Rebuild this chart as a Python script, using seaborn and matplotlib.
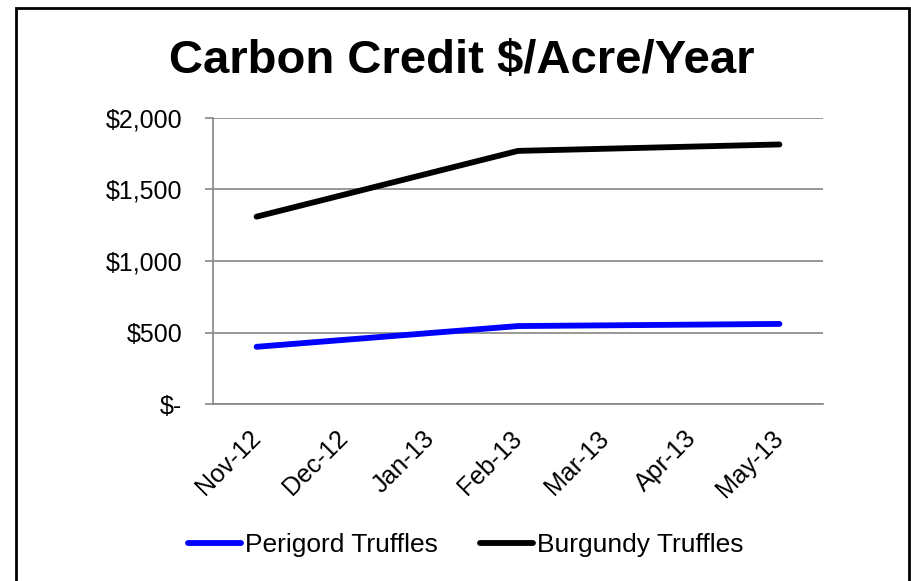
import matplotlib
matplotlib.use('Agg')
import matplotlib.pyplot as plt
from matplotlib.patches import Rectangle
import pandas as pd
import seaborn as sns

# Данные графика
months = ["Nov-12", "Dec-12", "Jan-13", "Feb-13", "Mar-13", "Apr-13", "May-13"]
obs_months = ["Nov-12", "Feb-13", "May-13"]
perigord = [400, 545, 560]
burgundy = [1310, 1770, 1815]
series_names = ["Perigord Truffles", "Burgundy Truffles"]
y_ticks = [0, 500, 1000, 1500, 2000]
y_labels = ["$-", "$500", "$1,000", "$1,500", "$2,000"]

df = pd.DataFrame({
    "month": obs_months * 2,
    "value": perigord + burgundy,
    "series": [series_names[0]] * 3 + [series_names[1]] * 3,
})
df["pos"] = df["month"].map(months.index)

sns.set_style("white")
plt.rcParams['font.family'] = ['Liberation Sans', 'DejaVu Sans']
plt.rcParams['text.color'] = 'black'
plt.rcParams['xtick.labelcolor'] = 'black'
plt.rcParams['ytick.labelcolor'] = 'black'

grid_col = "#868686"
fig = plt.figure(figsize=(9.12, 5.81), dpi=100)
ax = fig.add_axes([213 / 912, 1 - 404 / 581, 610 / 912, 286 / 581])

sns.lineplot(data=df, x="pos", y="value", hue="series",
             palette={series_names[0]: "#0000FF", series_names[1]: "#000000"},
             linewidth=4.2, solid_capstyle="round", ax=ax, legend=True)

ax.set_xlim(-0.5, len(months) - 0.5)
ax.set_ylim(0, 2000)
ax.set_yticks(y_ticks)
ax.set_yticklabels(y_labels)
ax.set_xticks(range(len(months)))
ax.set_xticklabels(months, rotation=45, ha="right", va="center",
                   rotation_mode="anchor")
ax.set_xticks([i - 0.5 for i in range(len(months) + 1)], minor=True)
ax.tick_params(axis="x", which="major", length=0, pad=22, labelsize=18,
               labelcolor="black")
ax.tick_params(axis="x", which="minor", length=6, width=1.2, color=grid_col,
               direction="out")
ax.tick_params(axis="y", length=6, width=1.2, color=grid_col, pad=16,
               labelsize=18, left=True, labelcolor="black")
ax.set_xlabel("")
ax.set_ylabel("")
ax.yaxis.grid(True, color=grid_col, linewidth=1.2)
for side in ["top", "right"]:
    ax.spines[side].set_visible(False)
for side in ["left", "bottom"]:
    ax.spines[side].set_color(grid_col)
    ax.spines[side].set_linewidth(1.2)
ax.set_axisbelow(True)

leg = ax.legend(loc="center", bbox_to_anchor=(466 / 912, 1 - 545 / 581),
                bbox_transform=fig.transFigure, ncol=2, frameon=False,
                fontsize=19, handlelength=2.0, handletextpad=0.15,
                columnspacing=1.6)
for h in leg.get_lines():
    h.set_linewidth(4.2)
    h.set_solid_capstyle("round")
for t in leg.get_texts():
    t.set_color("black")

fig.text(462 / 912, 1 - 73 / 581, "Carbon Credit $/Acre/Year",
         ha="center", va="baseline", fontsize=34, fontweight="bold",
         color="black")

# Рамка области диаграммы (нижний край за пределами картинки)
fig.add_artist(Rectangle((16 / 912, -0.1), (909 - 16) / 912, 1.1 - 8 / 581,
                         transform=fig.transFigure, fill=False,
                         edgecolor="black", linewidth=2, clip_on=False))

fig.savefig("out.png", dpi=100)
